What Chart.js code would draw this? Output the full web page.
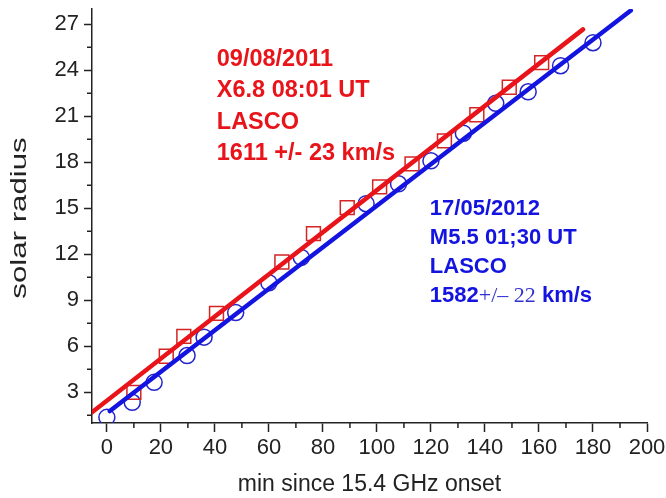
<!DOCTYPE html>
<html>
<head>
<meta charset="utf-8">
<script src="https://cdn.jsdelivr.net/npm/chart.js@4.4.0/dist/chart.umd.min.js"></script>
<style>
    html, body { margin: 0; padding: 0; background: #fff; }
    .chart-container { position: relative; width: 666px; height: 498px; }
</style>
</head>
<body>
<div class="chart-container"><canvas id="chart"></canvas></div>
<script>
// 09/08/2011 event, LASCO heights (squares)
const minutes2011 = [10, 22, 28.5, 40.6, 64.8, 76.5, 89, 101, 113, 125, 137, 149, 161];
const radius2011 = [3.0, 5.35, 6.65, 8.15, 11.5, 13.35, 15.05, 16.4, 17.9, 19.4, 21.1, 22.9, 24.5];

// 17/05/2012 event, LASCO heights (circles)
const minutes2012 = [0, 9.4, 17.5, 29.7, 36, 47.7, 60, 72, 96, 108, 120, 132, 144, 156, 168, 180];
const radius2012 = [1.37, 2.35, 3.65, 5.4, 6.6, 8.2, 10.15, 11.8, 15.3, 16.6, 18.1, 19.9, 21.85, 22.6, 24.3, 25.8];

// linear fits, end points
const fit2011Minutes = [-5.5, 176.3];
const fit2011Radius = [1.7, 26.67];
const fit2012Minutes = [1.1, 194];
const fit2012Radius = [1.78, 27.9];

const xTickValues = [0, 20, 40, 60, 80, 100, 120, 140, 160, 180, 200];
const xMinorValues = [10, 30, 50, 70, 90, 110, 130, 150, 170, 190];
const yTickValues = [3, 6, 9, 12, 15, 18, 21, 24, 27];
const yMinorValues = [1.5, 4.5, 7.5, 10.5, 13.5, 16.5, 19.5, 22.5, 25.5];

const yTitle = 'solar radius';
const xTitle = 'min since 15.4 GHz onset';
const note2011Lines = ['09/08/2011', 'X6.8 08:01 UT', 'LASCO', '1611 +/- 23 km/s'];
const note2012Lines = ['17/05/2012', 'M5.5 01;30 UT', 'LASCO', ['1582', '+/\u2013 22', ' km/s']];

const RED = '#e8141a';
const BLUE = '#1414e0';
const INK = '#222';
const SANS = "'Liberation Sans', Arial, sans-serif";

const toPoints = (xs, ys) => xs.map((x, i) => ({ x: x, y: ys[i] }));

// minor ticks, y title and the two text blocks
const extrasPlugin = {
    id: 'extras',
    afterDraw: chart => {
        const ctx = chart.ctx;
        const xs = chart.scales.x;
        const ys = chart.scales.y;
        ctx.save();
        ctx.strokeStyle = INK;
        ctx.lineWidth = 1.5;
        ctx.beginPath();
        xMinorValues.forEach(v => {
            const px = xs.getPixelForValue(v);
            ctx.moveTo(px, ys.bottom);
            ctx.lineTo(px, ys.bottom + 5);
        });
        yMinorValues.forEach(v => {
            const py = ys.getPixelForValue(v);
            ctx.moveTo(xs.left, py);
            ctx.lineTo(xs.left - 5, py);
        });
        ctx.stroke();

        // y title, stretched along its length like the original
        ctx.save();
        ctx.translate(20, (ys.top + ys.bottom) / 2 + 2);
        ctx.rotate(-Math.PI / 2);
        ctx.scale(1.42, 1);
        ctx.font = '22px ' + SANS;
        ctx.fillStyle = INK;
        ctx.textAlign = 'center';
        ctx.textBaseline = 'middle';
        ctx.fillText(yTitle, 0, 0);
        ctx.restore();

        ctx.textBaseline = 'middle';
        ctx.textAlign = 'left';

        let x0 = xs.getPixelForValue(40.7);
        let y0 = ys.getPixelForValue(24.72);
        ctx.fillStyle = RED;
        ctx.font = 'bold 23.5px ' + SANS;
        note2011Lines.forEach((line, i) => {
            ctx.fillText(line, x0, y0 + i * 31.5);
        });

        x0 = xs.getPixelForValue(119.6);
        y0 = ys.getPixelForValue(14.93);
        const fonts = ['bold 22px ' + SANS, '22px "Liberation Serif", "Times New Roman", serif', 'bold 22px ' + SANS];
        note2012Lines.forEach((line, i) => {
            const y = y0 + i * 29;
            if (Array.isArray(line)) {
                let x = x0;
                line.forEach((part, j) => {
                    ctx.font = fonts[j];
                    ctx.fillStyle = j === 1 ? '#3030d0' : BLUE;
                    ctx.fillText(part, x, y);
                    x += ctx.measureText(part).width;
                });
            } else {
                ctx.font = fonts[0];
                ctx.fillStyle = BLUE;
                ctx.fillText(line, x0, y);
            }
        });
        ctx.restore();
    }
};

const ctx = document.getElementById('chart').getContext('2d');
new Chart(ctx, {
    type: 'scatter',
    data: {
        datasets: [
            {
                data: toPoints(fit2011Minutes, fit2011Radius),
                showLine: true,
                borderColor: RED,
                borderWidth: 4.5,
                borderCapStyle: 'round',
                pointRadius: 0,
                order: 1
            },
            {
                data: toPoints(fit2012Minutes, fit2012Radius),
                showLine: true,
                borderColor: BLUE,
                borderWidth: 4.5,
                borderCapStyle: 'round',
                pointRadius: 0,
                order: 1
            },
            {
                data: toPoints(minutes2011, radius2011),
                pointStyle: 'rect',
                pointRadius: 9.8,
                pointBorderWidth: 1.5,
                pointBorderColor: '#d42424',
                pointBackgroundColor: 'rgba(0,0,0,0)',
                order: 2
            },
            {
                data: toPoints(minutes2012, radius2012),
                pointStyle: 'circle',
                pointRadius: 8,
                pointBorderWidth: 1.5,
                pointBorderColor: '#2424cc',
                pointBackgroundColor: 'rgba(0,0,0,0)',
                order: 2
            }
        ]
    },
    options: {
        responsive: true,
        maintainAspectRatio: false,
        animation: false,
        layout: {
            autoPadding: false,
            padding: { top: 9, right: 19, left: 0, bottom: 0 }
        },
        scales: {
            x: {
                type: 'linear',
                min: -5.5,
                max: 200,
                afterBuildTicks: scale => {
                    scale.ticks = xTickValues.map(value => ({ value: value }));
                },
                afterFit: scale => {
                    scale.height = 75;
                    scale.paddingLeft = 0;
                    scale.paddingRight = 0;
                },
                grid: {
                    display: true,
                    drawOnChartArea: false,
                    tickLength: 9,
                    tickColor: INK,
                    tickWidth: 1.5
                },
                border: { display: true, color: INK, width: 1.5 },
                ticks: {
                    color: INK,
                    padding: 3,
                    maxRotation: 0,
                    font: { family: SANS, size: 22 }
                },
                title: {
                    display: true,
                    text: xTitle,
                    color: INK,
                    padding: { top: 0, bottom: 0 },
                    font: { family: SANS, size: 23 }
                }
            },
            y: {
                type: 'linear',
                min: 1,
                max: 28,
                afterBuildTicks: scale => {
                    scale.ticks = yTickValues.map(value => ({ value: value }));
                },
                afterFit: scale => {
                    scale.width = 92;
                    scale.paddingTop = 0;
                    scale.paddingBottom = 0;
                },
                grid: {
                    display: true,
                    drawOnChartArea: false,
                    tickLength: 8,
                    tickColor: INK,
                    tickWidth: 1.5
                },
                border: { display: true, color: INK, width: 1.5 },
                ticks: {
                    color: INK,
                    padding: 5,
                    font: { family: SANS, size: 22 }
                },
                title: { display: false }
            }
        },
        plugins: {
            legend: { display: false },
            tooltip: { enabled: false }
        }
    },
    plugins: [extrasPlugin]
});
</script>
</body>
</html>
